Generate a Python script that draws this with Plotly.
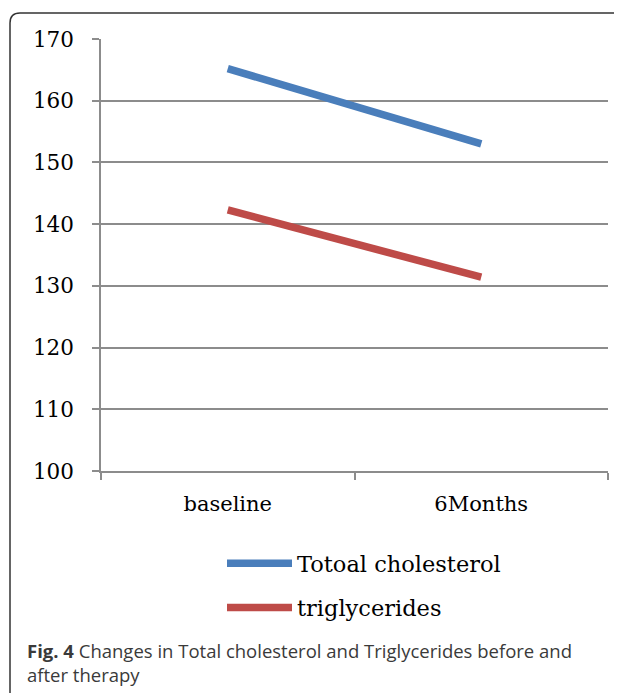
import plotly.graph_objects as go

categories = ["baseline", "6Months"]
total_cholesterol = [165.2, 153.0]
triglycerides = [142.3, 131.4]
series_names = ["Totoal cholesterol", "triglycerides"]
y_ticks = [100, 110, 120, 130, 140, 150, 160, 170]

OFF = 8  # page body margin offset
W, H = 622, 693
L, R, T, B = 101 - OFF, 14 + OFF, 39 - OFF, 222 + OFF
PW, PH = W - L - R, H - T - B


def px(x):
    return (x - OFF - L) / PW


def py(y):
    return 1 - (y - OFF - T) / PH


fig = go.Figure()
fig.add_trace(go.Scatter(x=categories, y=total_cholesterol, mode="lines", name=series_names[0],
                         legendgroup="a", line=dict(color="#4a7ebb", width=7.5)))
fig.add_trace(go.Scatter(x=categories, y=triglycerides, mode="lines", name=series_names[1],
                         legendgroup="b", line=dict(color="#be4b48", width=7.5)))

# outer frame with rounded top-left corner
r = 10
x0, y0 = 10, 13
path = (f"M {px(x0)} {py(H + 20)} L {px(x0)} {py(y0 + r)} "
        f"Q {px(x0)} {py(y0)} {px(x0 + r)} {py(y0)} L {px(W + 30)} {py(y0)}")
fig.add_shape(type="path", path=path, xref="paper", yref="paper",
              line=dict(color="#333333", width=1.5))

fig.add_annotation(
    text="<b>Fig. 4</b> Changes in Total cholesterol and Triglycerides before and<br>after therapy",
    xref="paper", yref="paper", x=px(25), y=py(636), xanchor="left", yanchor="top",
    align="left", showarrow=False,
    font=dict(family="Open Sans", size=18.5, color="#3a3a3a"))

fig.update_layout(
    width=W, height=H,
    margin=dict(l=L, r=R, t=T, b=B),
    paper_bgcolor="white", plot_bgcolor="white",
    showlegend=True,
    legend=dict(x=px(222), y=py(542), xanchor="left", yanchor="top",
                font=dict(family="DejaVu Serif", size=22.5, color="black"),
                itemwidth=65,
                tracegroupgap=12, traceorder="grouped", bgcolor="rgba(0,0,0,0)"),
    xaxis=dict(type="category", range=[-0.5, 1.5], showgrid=False,
               showline=True, linecolor="#8c8c8c", linewidth=1.5,
               ticks="outside", tickson="boundaries", ticklen=7, tickcolor="#8c8c8c",
               tickwidth=1.5, ticklabelstandoff=13,
               tickfont=dict(family="DejaVu Serif", size=21, color="black")),
    yaxis=dict(range=[100, 170], tickvals=y_ticks, showgrid=True, gridcolor="#8c8c8c",
               gridwidth=1.5, zeroline=False, showline=True, linecolor="#8c8c8c",
               linewidth=1.5, ticks="outside", ticklen=7, tickcolor="#8c8c8c", tickwidth=1.5,
               ticklabelstandoff=14,
               tickfont=dict(family="DejaVu Serif", size=21.5, color="black")),
)

fig.write_html("out.html")
